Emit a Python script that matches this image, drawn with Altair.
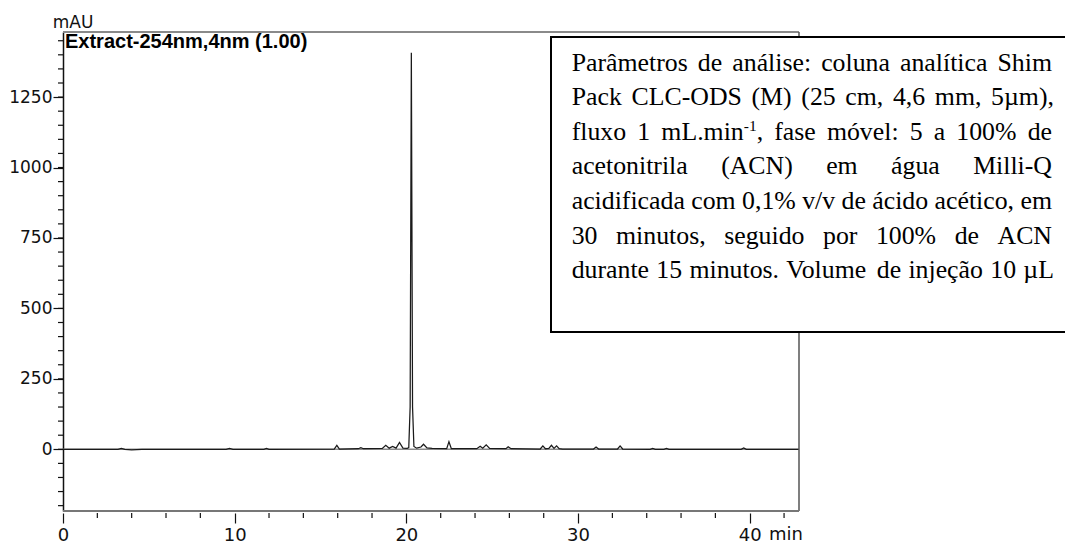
import altair as alt
import pandas as pd

# Chromatogram trace: retention time (min) and absorbance (mAU)
time_min = [0.0, 3.2, 3.4, 3.6, 4.0, 4.3, 4.6, 9.5, 9.7, 9.9, 11.7, 11.85, 12.0,
            15.8, 15.95, 16.1, 17.2, 17.35, 17.5, 18.6, 18.8, 19.0, 19.2, 19.4,
            19.6, 19.8, 20.05, 20.14, 20.22, 20.29, 20.36, 20.44, 20.6, 20.85,
            21.0, 21.2, 21.5, 22.35, 22.48, 22.62, 24.1, 24.3, 24.45, 24.65,
            24.85, 25.8, 25.93, 26.1, 27.8, 27.95, 28.1, 28.3, 28.45, 28.6,
            28.75, 28.9, 29.1, 30.9, 31.05, 31.2, 32.3, 32.45, 32.6, 34.2,
            34.35, 34.5, 35.0, 35.15, 35.3, 39.5, 39.65, 39.8, 42.87]
absorbance = [0, 0, 3, 0, -2, -1, 0, 0, 3, 0, 0, 3, 0,
              1, 14, 1, 2, 6, 2, 3, 14, 4, 10, 4,
              24, 4, 3, 6, 150, 1407, 150, 10, 4, 8,
              18, 5, 3, 2, 27, 2, 2, 11, 4, 16,
              3, 2, 9, 2, 1, 12, 2, 3, 14, 3,
              12, 2, 1, 1, 8, 1, 1, 12, 1, 0,
              3, 0, 0, 3, 0, 0, 5, 0, 0]

x_domain = [0, 42.87]
y_domain = [-219, 1481]
x_major = [0, 10, 20, 30, 40]
x_minor = [2, 4, 6, 8, 12, 14, 16, 18, 22, 24, 26, 28, 32, 34, 36, 38, 42]
y_major = [0, 250, 500, 750, 1000, 1250]
y_minor = list(range(-200, 1451, 50))

trace_title = "Extract-254nm,4nm (1.00)"
y_unit = "mAU"
x_unit = "min"

# Method note; '^' marks the superscript part
note_lines = [
    "Parâmetros de análise: coluna analítica Shim",
    "Pack CLC-ODS (M) (25 cm, 4,6 mm, 5µm),",
    "fluxo 1 mL.min^-1^, fase móvel: 5 a 100% de",
    "acetonitrila (ACN) em água Milli-Q",
    "acidificada com 0,1% v/v de ácido acético, em",
    "30 minutos, seguido por 100% de ACN",
    "durante 15 minutos. Volume de injeção 10 µL",
]

W, H = 736, 479

# --- justified layout of the note using Times metrics (1/1000 em) ---
TIMES = {' ': 250, '%': 833, '(': 333, ')': 333, ',': 250, '-': 333, '.': 250,
         '/': 278, ':': 278, 'A': 722, 'C': 667, 'D': 722, 'L': 611, 'M': 889,
         'N': 722, 'O': 722, 'P': 556, 'Q': 722, 'S': 556, 'V': 722,
         'a': 444, 'c': 444, 'd': 500, 'e': 444, 'f': 333, 'g': 500, 'h': 500,
         'i': 278, 'j': 278, 'k': 500, 'l': 278, 'm': 778, 'n': 500, 'o': 500,
         'p': 500, 'q': 500, 'r': 333, 's': 389, 't': 278, 'u': 500, 'v': 500,
         'x': 500, 'â': 444, 'á': 444, 'ã': 444, 'é': 444, 'í': 278, 'ó': 500,
         'ç': 444, 'µ': 500}
FS = 25.8
SUP = 0.6
left, right = 508.7, 989.0
base0, step = 38.6, 34.6


def seg_w(text, sup):
    w = sum(TIMES.get(ch, 500) for ch in text) / 1000 * FS
    return w * SUP if sup else w


rows, sup_rows = [], []
for li, line in enumerate(note_lines):
    words = []
    for word in line.split(' '):
        segs = [(s, i % 2 == 1) for i, s in enumerate(word.split('^')) if s]
        words.append(segs)
    widths = [sum(seg_w(s, sp) for s, sp in segs) for segs in words]
    gap = (right - left - sum(widths)) / (len(words) - 1)
    y = base0 + li * step
    cx = left
    for segs, w in zip(words, widths):
        px = cx
        for s, sp in segs:
            (sup_rows if sp else rows).append({'px': px, 'py': y, 'txt': s})
            px += seg_w(s, sp)
        cx += w + gap

words_df = pd.DataFrame(rows)
sup_df = pd.DataFrame(sup_rows)

trace_df = pd.DataFrame({'t': time_min, 'mAU': absorbance})

xs = alt.Scale(domain=x_domain, nice=False, zero=False)
ys = alt.Scale(domain=y_domain, nice=False, zero=False)

x_axis = alt.Axis(values=x_major, tickSize=10, tickColor='#111', tickWidth=1.2,
                  domain=False, offset=2, grid=False, title=None, format='d',
                  labelFont='DejaVu Sans', labelFontSize=18, labelColor='#111',
                  labelPadding=3, labelFlush=False, labelOverlap=False)
y_axis = alt.Axis(values=y_major, tickSize=10, tickColor='#111', tickWidth=1.2,
                  domainColor='#111', domainWidth=1.5, grid=False, title=None,
                  format='d', labelFont='DejaVu Sans', labelFontSize=17,
                  labelColor='#111', labelPadding=1, labelFlush=False,
                  labelOverlap=False)

zero_line = alt.Chart(pd.DataFrame({'mAU': [0]})).mark_rule(
    color='#8c8c8c', strokeWidth=1.5).encode(y=alt.Y('mAU:Q', scale=ys))

trace = alt.Chart(trace_df).mark_line(color='#1a1a1a', strokeWidth=1.25, clip=True).encode(
    x=alt.X('t:Q', scale=xs, axis=x_axis),
    y=alt.Y('mAU:Q', scale=ys, axis=y_axis),
)

x_minor_ticks = alt.Chart(pd.DataFrame({'t': x_minor})).mark_rule(
    color='#111', strokeWidth=1.2).encode(
    x=alt.X('t:Q', scale=xs), y=alt.value(H + 2), y2=alt.value(H + 7))

y_minor_ticks = alt.Chart(pd.DataFrame({'mAU': y_minor})).mark_rule(
    color='#111', strokeWidth=1.2).encode(
    y=alt.Y('mAU:Q', scale=ys), x=alt.value(-5), x2=alt.value(0))

frame_top = alt.Chart(pd.DataFrame({'k': [0]})).mark_rule(color='#8a8a8a', strokeWidth=2).encode(
    x=alt.value(0), x2=alt.value(W), y=alt.value(0))
frame_right = alt.Chart(pd.DataFrame({'k': [0]})).mark_rule(color='#555', strokeWidth=1.5).encode(
    x=alt.value(W), y=alt.value(0), y2=alt.value(H))
frame_bottom = alt.Chart(pd.DataFrame({'k': [0]})).mark_rule(color='#777', strokeWidth=2).encode(
    x=alt.value(0), x2=alt.value(W), y=alt.value(H))

title_txt = alt.Chart(pd.DataFrame({'k': [trace_title]})).mark_text(
    align='left', baseline='alphabetic', font='Liberation Sans', fontSize=20,
    fontWeight='bold', color='#000').encode(
    text='k:N', x=alt.value(2), y=alt.value(16))

y_unit_txt = alt.Chart(pd.DataFrame({'k': [y_unit]})).mark_text(
    align='center', baseline='alphabetic', font='DejaVu Sans', fontSize=17,
    color='#111').encode(text='k:N', x=alt.value(10), y=alt.value(-4))

x_unit_txt = alt.Chart(pd.DataFrame({'k': [x_unit]})).mark_text(
    align='left', baseline='top', font='DejaVu Sans', fontSize=18,
    color='#111').encode(text='k:N', x=alt.value(W - 30), y=alt.value(H + 15))

note_box = alt.Chart(pd.DataFrame({'k': [0]})).mark_rect(
    fill='white', stroke='#000', strokeWidth=2).encode(
    x=alt.value(488), x2=alt.value(1010), y=alt.value(5), y2=alt.value(300))

note_words = alt.Chart(words_df).mark_text(
    align='left', baseline='alphabetic', font='Liberation Serif', fontSize=FS,
    color='#000').encode(
    x=alt.X('px:Q', scale=None, axis=None), y=alt.Y('py:Q', scale=None, axis=None),
    text='txt:N')

note_sup = alt.Chart(sup_df).mark_text(
    align='left', baseline='alphabetic', font='Liberation Serif', fontSize=FS * SUP,
    dy=-FS * 0.36, color='#000').encode(
    x=alt.X('px:Q', scale=None, axis=None), y=alt.Y('py:Q', scale=None, axis=None),
    text='txt:N')

chart = alt.layer(
    zero_line, trace, x_minor_ticks, y_minor_ticks,
    frame_top, frame_right, frame_bottom,
    title_txt, y_unit_txt, x_unit_txt,
    note_box, note_words, note_sup,
).properties(
    width=W, height=H,
    autosize=alt.AutoSizeParams(type='none'),
    padding={'left': 63, 'top': 32, 'right': 266, 'bottom': 33},
    background='white',
).configure_view(stroke=None)

chart.save("out.html", embed_options={"renderer": "svg", "actions": False})
